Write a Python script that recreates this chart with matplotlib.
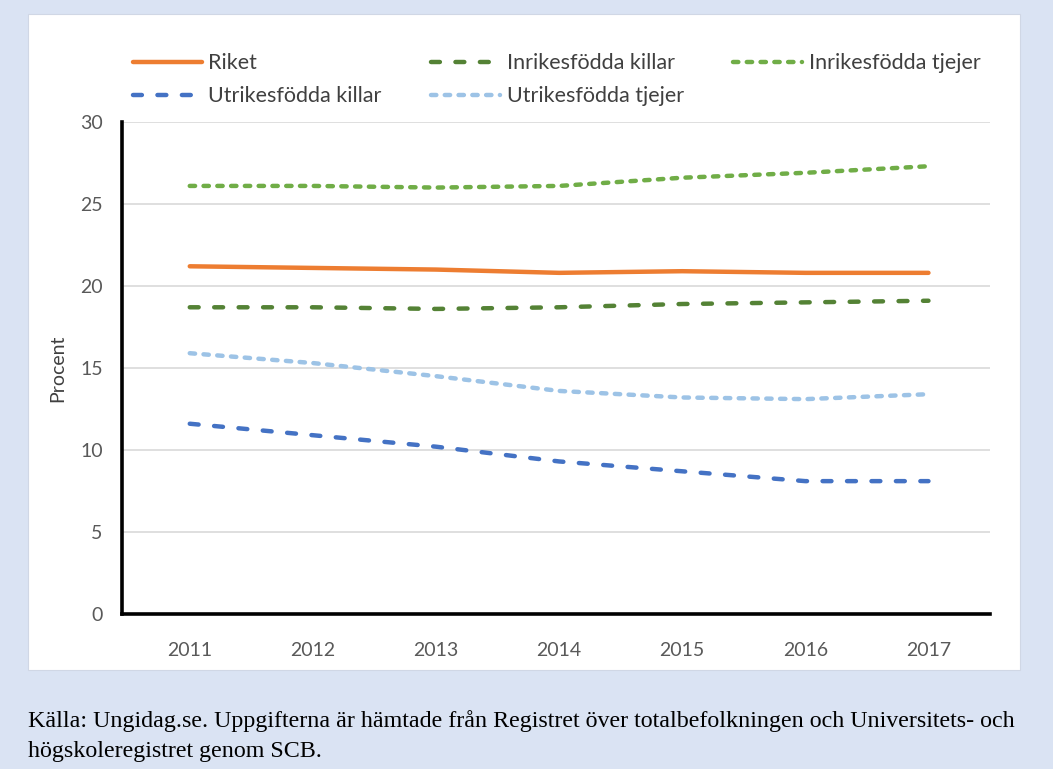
import matplotlib.pyplot as plt
from matplotlib.patches import Rectangle

# -----------------------------------------
# DATA
# -----------------------------------------
years = ['2011', '2012', '2013', '2014', '2015', '2016', '2017']

riket = [21.2, 21.1, 21.0, 20.8, 20.9, 20.8, 20.8]
inrikes_killar = [18.7, 18.7, 18.6, 18.7, 18.9, 19.0, 19.1]
inrikes_tjejer = [26.1, 26.1, 26.0, 26.1, 26.6, 26.9, 27.3]
utrikes_killar = [11.6, 10.9, 10.2, 9.3, 8.7, 8.1, 8.1]
utrikes_tjejer = [15.9, 15.3, 14.5, 13.6, 13.2, 13.1, 13.4]

source = ("Källa: Ungidag.se. Uppgifterna är hämtade från Registret över "
          "totalbefolkningen och Universitets- och\nhögskoleregistret genom SCB.")

# -----------------------------------------
# FIGURE
# -----------------------------------------
plt.rcParams['font.family'] = ['Lato', 'DejaVu Sans']

fig = plt.figure(figsize=(10.53, 7.69), dpi=100)
fig.patch.set_facecolor('#DAE3F3')

# white chart panel
fig.patches.append(Rectangle(
    (0.0266, 0.1287), 0.942, 0.853,
    transform=fig.transFigure,
    facecolor='white',
    edgecolor='#D0D7E5',
    linewidth=0.8,
    zorder=-5
))

ax = fig.add_axes([0.1159, 0.2016, 0.8243, 0.6398])
ax.set_facecolor('none')

x = list(range(len(years)))
lw = 3.2

series = [
    (riket, 'Riket', '#ED7D31', None),
    (utrikes_killar, 'Utrikesfödda killar', '#4472C4', (2.0, 3.5)),
    (inrikes_killar, 'Inrikesfödda killar', '#548235', (2.0, 3.5)),
    (utrikes_tjejer, 'Utrikesfödda tjejer', '#9DC3E6', (1.2, 1.9)),
    (inrikes_tjejer, 'Inrikesfödda tjejer', '#70AD47', (1.2, 1.9)),
]

for values, label, color, dashes in series:
    line, = ax.plot(
        x,
        values,
        color=color,
        linewidth=lw,
        label=label,
        solid_capstyle='round',
        dash_capstyle='round',
        solid_joinstyle='round'
    )
    if dashes is not None:
        line.set_dashes(dashes)

ax.set_xlim(-0.55, 6.5)
ax.set_ylim(0, 30)
ax.set_yticks(range(0, 31, 5))
ax.set_xticks(x)
ax.set_xticklabels(years)

ax.grid(axis='y', color='#D9D9D9', linewidth=1.2)
ax.set_axisbelow(True)

for side in ['top', 'right']:
    ax.spines[side].set_visible(False)
for side in ['left', 'bottom']:
    ax.spines[side].set_linewidth(2.6)
    ax.spines[side].set_color('black')

ax.tick_params(axis='both', length=0, labelsize=14, colors='#595959')
ax.tick_params(axis='x', pad=20)
ax.tick_params(axis='y', pad=14)

ax.set_ylabel('Procent', fontsize=14, color='#404040', labelpad=10)

fig.legend(
    loc='upper left',
    bbox_to_anchor=(0.108, 0.956),
    ncol=3,
    frameon=False,
    fontsize=15.5,
    handlelength=3.2,
    handletextpad=0.3,
    columnspacing=2.3,
    labelspacing=0.6,
    labelcolor='#404040'
)

fig.text(
    0.0266, 0.009,
    source,
    fontsize=17.3,
    family='Liberation Serif',
    linespacing=1.56,
    ha='left',
    va='bottom'
)

fig.savefig('out.png', dpi=100, facecolor=fig.get_facecolor())
